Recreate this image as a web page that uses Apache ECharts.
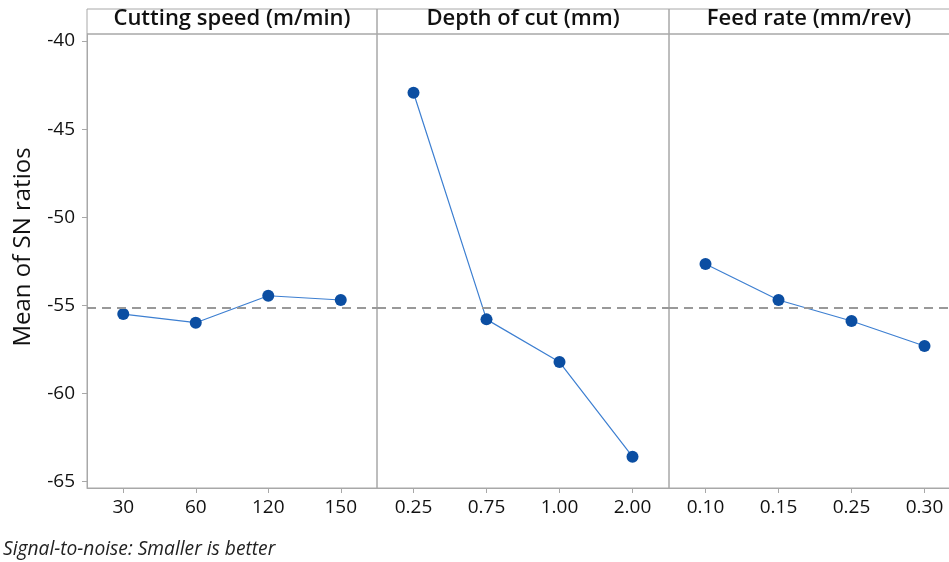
<!DOCTYPE html>
<html>
<head>
<meta charset="utf-8">
<script src="https://cdn.jsdelivr.net/npm/echarts@6/dist/echarts.min.js"></script>
<style>html,body{margin:0;padding:0;background:#fff}#c{width:949px;height:562px}</style>
</head>
<body>
<div id="c"></div>
<script>
var panelTitles = ['Cutting speed (m/min)', 'Depth of cut (mm)', 'Feed rate (mm/rev)'];
var speedLevels = ['30', '60', '120', '150'];
var depthLevels = ['0.25', '0.75', '1.00', '2.00'];
var feedLevels = ['0.10', '0.15', '0.25', '0.30'];
var speedSN = [-55.49, -55.98, -54.45, -54.69];
var depthSN = [-42.93, -55.79, -58.21, -63.58];
var feedSN = [-52.65, -54.69, -55.88, -57.30];
var yTicks = [-65, -60, -55, -50, -45, -40];
var yLabel = 'Mean of SN ratios';
var footNote = 'Signal-to-noise: Smaller is better';

var levels = [speedLevels, depthLevels, feedLevels];
var values = [speedSN, depthSN, feedSN];
var all = speedSN.concat(depthSN, feedSN);
var grandMean = all.reduce(function(a, b){ return a + b; }, 0) / all.length;

var FONT = 'Open Sans';
var lefts = [87, 377, 669];
var widths = [290, 292, 292];
var yMin = -65.357, yMax = -39.60;

var grids = [], xAxes = [], yAxes = [], series = [], titles = [];
for (var i = 0; i < 3; i++) {
  grids.push({left: lefts[i], width: widths[i], top: 34, height: 454, show: true,
    outerBoundsMode: 'none', containLabel: false,
    borderColor: '#a8a8a8', borderWidth: 1, backgroundColor: 'transparent'});
  xAxes.push({type: 'category', gridIndex: i, data: levels[i], boundaryGap: true,
    axisLine: {show: true, lineStyle: {color: '#a8a8a8'}},
    axisTick: {show: true, alignWithLabel: true, length: 5, lineStyle: {color: '#a8a8a8'}},
    axisLabel: {fontFamily: FONT, fontSize: 19, fontWeight: 500, color: '#111', margin: 10, interval: 0},
    splitLine: {show: false}});
  var ya = {type: 'value', gridIndex: i, min: yMin, max: yMax, splitLine: {show: false}};
  if (i === 0) {
    ya.axisLine = {show: true, lineStyle: {color: '#a8a8a8'}};
    ya.axisTick = {show: true, length: 5, customValues: yTicks, lineStyle: {color: '#a8a8a8'}};
    ya.axisLabel = {fontFamily: FONT, fontSize: 19, fontWeight: 500, color: '#111', margin: 12, customValues: yTicks};
    ya.name = yLabel;
    ya.nameLocation = 'middle';
    ya.nameGap = 52;
    ya.nameTextStyle = {fontFamily: FONT, fontSize: 24, color: '#111', padding: [0, 0, 0, 28]};
  } else {
    ya.axisLine = {show: false}; ya.axisTick = {show: false}; ya.axisLabel = {show: false};
  }
  yAxes.push(ya);
  series.push({type: 'line', xAxisIndex: i, yAxisIndex: i, data: values[i],
    symbol: 'circle', symbolSize: 12, itemStyle: {color: '#0b4ea2'},
    lineStyle: {color: '#3d7fd1', width: 1.2}, animation: false, silent: true,
    markLine: {silent: true, symbol: 'none', label: {show: false},
      lineStyle: {color: '#999', type: [9, 6], width: 2},
      data: [{yAxis: grandMean}]}, z: 3});
  titles.push({text: panelTitles[i], left: lefts[i] + widths[i] / 2 - (i === 2 ? 6 : 0), top: 8,
    textAlign: 'center', padding: 0,
    textStyle: {fontFamily: FONT, fontSize: 22, fontWeight: 600, color: '#111'}});
}
for (var j = 0; j < 3; j++) {
  grids.push({left: lefts[j], width: widths[j], top: 9, height: 25, show: true,
    outerBoundsMode: 'none', borderColor: '#a8a8a8', borderWidth: 1});
  xAxes.push({type: 'value', gridIndex: 3 + j, show: false});
  yAxes.push({type: 'value', gridIndex: 3 + j, show: false});
}
titles.push({text: footNote, left: 3, top: 540, padding: 0,
  textStyle: {fontFamily: FONT, fontSize: 19.2, fontStyle: 'italic', fontWeight: 'normal', color: '#222'}});

var chart = echarts.init(document.getElementById('c'), null, {renderer: 'canvas'});
chart.setOption({animation: false, backgroundColor: '#fff', title: titles, grid: grids,
  xAxis: xAxes, yAxis: yAxes, series: series});
</script>
</body>
</html>
